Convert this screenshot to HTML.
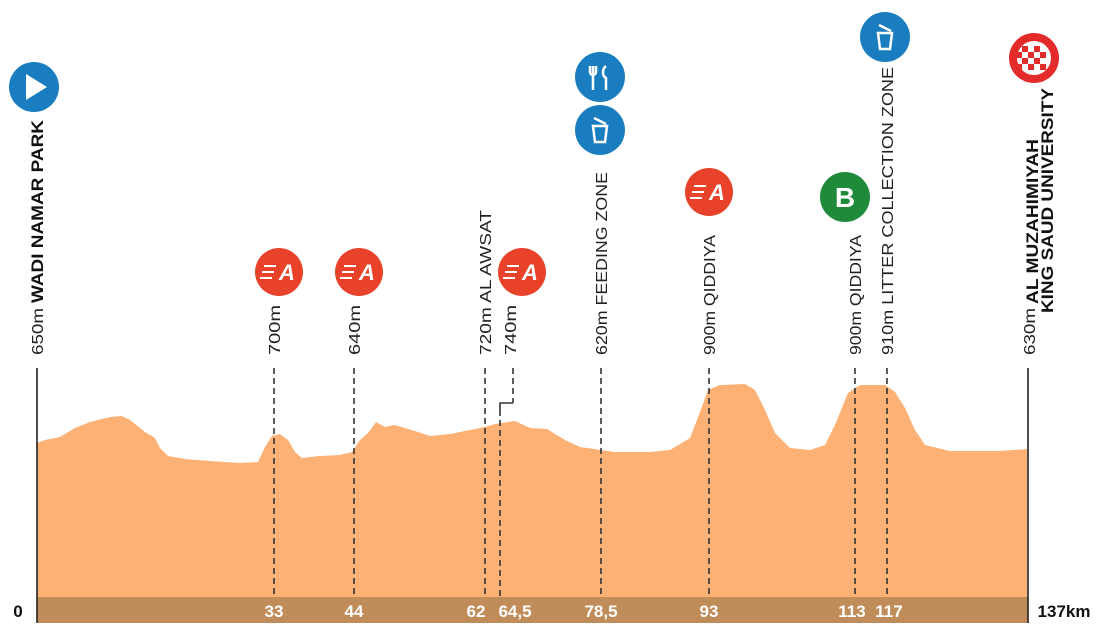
<!DOCTYPE html>
<html><head><meta charset="utf-8"><style>
html,body{margin:0;padding:0;background:#fff;}
svg{display:block;}
text{font-family:"Liberation Sans",sans-serif;}
.l{font-size:16px;fill:#222;}
.b{font-size:17px;font-weight:bold;fill:#111;}
.n{font-size:17px;font-weight:bold;fill:#fff;text-anchor:middle;}
.d{stroke:#333;stroke-width:1.6;stroke-dasharray:6,4;fill:none;}
</style></head><body>
<svg width="1100" height="635" viewBox="0 0 1100 635" xmlns="http://www.w3.org/2000/svg">
<rect x="0" y="0" width="1100" height="635" fill="#fff"/>
<path fill="#fdb174" d="M37,443 L45,440 L60,437 L75,428 L90,422 L110,417 L122,416 L130,420 L145,432 L155,438 L160,448 L168,456 L185,459 L210,461 L240,463 L258,462 L265,447 L272,436 L280,434 L288,440 L295,452 L302,458 L320,456 L340,455 L352,452 L360,440 L368,433 L376,422 L385,427 L395,425 L405,428 L418,432 L430,436 L450,434 L470,430 L485,427 L495,424 L515,421 L530,428 L547,429 L565,440 L580,447 L601,450 L615,452 L650,452 L670,450 L690,438 L700,412 L708,390 L720,385 L745,384 L755,390 L765,410 L775,433 L790,448 L810,450 L825,445 L835,425 L848,393 L860,385 L885,385 L895,392 L905,408 L915,430 L925,445 L950,451 L1000,451 L1027,449 L1027,598 L37,598 Z"/>
<rect x="37" y="597" width="991" height="26" fill="#c08d5a"/>
<line x1="37" y1="368" x2="37" y2="623" stroke="#222" stroke-width="1.6"/>
<line x1="1028" y1="368" x2="1028" y2="623" stroke="#222" stroke-width="1.6"/>
<path class="d" d="M274,368V597 M354,368V597 M485,368V597 M601,368V597 M709,368V597 M855,368V597 M887,368V597"/>
<path class="d" d="M513,368V403 M500,410V597"/>
<path d="M513,403H500V410" stroke="#333" stroke-width="1.6" fill="none"/>
<text x="18" y="617" class="n" style="fill:#111">0</text>
<text x="274" y="617" class="n">33</text>
<text x="354" y="617" class="n">44</text>
<text x="476" y="617" class="n">62</text>
<text x="515" y="617" class="n">64,5</text>
<text x="601" y="617" class="n">78,5</text>
<text x="709" y="617" class="n">93</text>
<text x="852" y="617" class="n">113</text>
<text x="889" y="617" class="n">117</text>
<text x="1064" y="617" class="n" style="fill:#111">137km</text>
<g>
<text transform="translate(43,355) rotate(-90)" class="l" textLength="47" lengthAdjust="spacingAndGlyphs">650m</text>
<text transform="translate(43,303) rotate(-90)" class="b" textLength="183" lengthAdjust="spacingAndGlyphs">WADI NAMAR PARK</text>
<text transform="translate(280,355) rotate(-90)" class="l" textLength="50" lengthAdjust="spacingAndGlyphs">700m</text>
<text transform="translate(360,355) rotate(-90)" class="l" textLength="50" lengthAdjust="spacingAndGlyphs">640m</text>
<text transform="translate(491,355) rotate(-90)" class="l" textLength="145" lengthAdjust="spacingAndGlyphs">720m AL AWSAT</text>
<text transform="translate(516,355) rotate(-90)" class="l" textLength="50" lengthAdjust="spacingAndGlyphs">740m</text>
<text transform="translate(607,355) rotate(-90)" class="l" textLength="183" lengthAdjust="spacingAndGlyphs">620m FEEDING ZONE</text>
<text transform="translate(715,355) rotate(-90)" class="l" textLength="120" lengthAdjust="spacingAndGlyphs">900m QIDDIYA</text>
<text transform="translate(861,355) rotate(-90)" class="l" textLength="120" lengthAdjust="spacingAndGlyphs">900m QIDDIYA</text>
<text transform="translate(893,355) rotate(-90)" class="l" textLength="288" lengthAdjust="spacingAndGlyphs">910m LITTER COLLECTION ZONE</text>
<text transform="translate(1035,355) rotate(-90)" class="l" textLength="47" lengthAdjust="spacingAndGlyphs">630m</text>
<text transform="translate(1038,304) rotate(-90)" class="b" textLength="165" lengthAdjust="spacingAndGlyphs">AL MUZAHIMIYAH</text>
<text transform="translate(1053,313) rotate(-90)" class="b" textLength="225" lengthAdjust="spacingAndGlyphs">KING SAUD UNIVERSITY</text>
</g>
<circle cx="34" cy="87" r="25" fill="#1a7dc0"/>
<path d="M26,74 L47,87 L26,100 Z" fill="#fff"/>
<g fill="#e8432a">
<circle cx="279" cy="272" r="24"/><circle cx="359" cy="272" r="24"/><circle cx="522" cy="272" r="24"/><circle cx="709" cy="192" r="24"/>
</g>
<g fill="#fff" font-family="Liberation Sans" font-weight="bold" font-style="italic" font-size="22">
<text x="279" y="280">A</text><text x="359" y="280">A</text><text x="522" y="280">A</text><text x="709" y="200">A</text>
</g>
<g stroke="#fff" stroke-width="2">
<path d="M264,266h12M262,272h12M260,278h12"/><path d="M344,266h12M342,272h12M340,278h12"/>
<path d="M507,266h12M505,272h12M503,278h12"/><path d="M694,186h12M692,192h12M690,198h12"/>
</g>
<circle cx="600" cy="77" r="25" fill="#1a7dc0"/>
<path d="M593,66v10M590,66v6a3,3 0 0 0 6,0v-6M593,76v14M606,66c-4,3-4,10 0,12v12" stroke="#fff" stroke-width="2.5" fill="none"/>
<circle cx="600" cy="130" r="25" fill="#1a7dc0"/>
<path d="M593,126h14l-2,16h-10z" fill="none" stroke="#fff" stroke-width="2.5"/><path d="M594,118l12,6" stroke="#fff" stroke-width="2.5"/>
<circle cx="885" cy="37" r="25" fill="#1a7dc0"/>
<path d="M878,33h14l-2,16h-10z" fill="none" stroke="#fff" stroke-width="2.5"/><path d="M879,25l12,6" stroke="#fff" stroke-width="2.5"/>
<circle cx="845" cy="197" r="25" fill="#1e8a3a"/>
<text x="845" y="207" fill="#fff" font-weight="bold" font-size="28" text-anchor="middle">B</text>
<circle cx="1034" cy="58" r="25" fill="#e32b2b"/>
<circle cx="1034" cy="58" r="17" fill="#fff"/>
<g fill="#e32b2b">
<rect x="1022" y="46" width="6" height="6"/><rect x="1034" y="46" width="6" height="6"/>
<rect x="1028" y="52" width="6" height="6"/><rect x="1040" y="52" width="6" height="6"/>
<rect x="1022" y="58" width="6" height="6"/><rect x="1034" y="58" width="6" height="6"/>
<rect x="1028" y="64" width="6" height="6"/><rect x="1040" y="64" width="6" height="6"/>
<rect x="1017" y="52" width="5" height="6"/><rect x="1017" y="64" width="5" height="6"/>
</g>
</svg>
</body></html>
